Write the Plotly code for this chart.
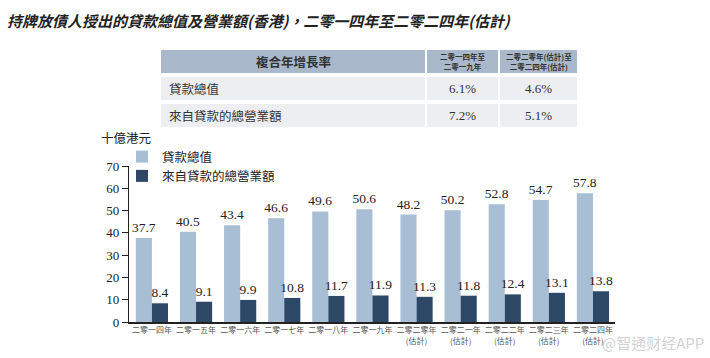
import plotly.graph_objects as go

categories = ["二零一四年", "二零一五年", "二零一六年", "二零一七年", "二零一八年", "二零一九年",
              "二零二零年<br>(估計)", "二零二一年<br>(估計)", "二零二二年<br>(估計)",
              "二零二三年<br>(估計)", "二零二四年<br>(估計)"]
loan_total = [37.7, 40.5, 43.4, 46.6, 49.6, 50.6, 48.2, 50.2, 52.8, 54.7, 57.8]
loan_revenue = [8.4, 9.1, 9.9, 10.8, 11.7, 11.9, 11.3, 11.8, 12.4, 13.1, 13.8]
series_names = ["貸款總值", "來自貸款的總營業額"]

cagr_header = "複合年增長率"
cagr_periods = ["二零一四年至<br>二零一九年", "二零二零年(估計)至<br>二零二四年(估計)"]
cagr_rows = ["貸款總值", "來自貸款的總營業額"]
cagr_values = [["6.1%", "4.6%"], ["7.2%", "5.1%"]]

title = "持牌放債人授出的貸款總值及營業額(香港)，二零一四年至二零二四年(估計)"
y_unit = "十億港元"
y_ticks = [0, 10, 20, 30, 40, 50, 60, 70]

W, H = 710, 358
L, R, T, B = 129, 615, 166, 322

def px2x(px):
    return (px - L) / (R - L)

def py2y(py):
    return (B - py) / (B - T)

CJK = "Noto Sans CJK TC"
SERIF = "Liberation Serif"
LIGHT = "#a8bed5"
DARK = "#2d4866"

fig = go.Figure()
fig.add_trace(go.Bar(x=list(range(len(categories))), y=loan_total, name=series_names[0],
                     marker=dict(color=LIGHT, line=dict(width=0)),
                     texttemplate="%{y:.1f}", textposition="outside", cliponaxis=False,
                     constraintext="none",
                     textfont=dict(family=SERIF, size=13.5, color="#222")))
fig.add_trace(go.Bar(x=list(range(len(categories))), y=loan_revenue, name=series_names[1],
                     marker=dict(color=DARK, line=dict(width=0)),
                     texttemplate="%{y:.1f}", textposition="outside", cliponaxis=False,
                     constraintext="none",
                     textfont=dict(family=SERIF, size=13.5, color="#222")))

shapes = []
annotations = []

def ann(text, px, py, size, family=CJK, color="#333", xanchor="center"):
    annotations.append(dict(text=text, x=px2x(px), y=py2y(py), xanchor=xanchor, yanchor="middle",
                            xref="paper", yref="paper", showarrow=False,
                            font=dict(family=family, size=size, color=color)))

# table
cols = [(161, 425), (427, 498), (500, 577)]
rows = [(77, 100), (104, 127)]
for (x0, x1) in cols:
    shapes.append(dict(type="rect", xref="paper", yref="paper", x0=px2x(x0), x1=px2x(x1),
                       y0=py2y(73), y1=py2y(50), fillcolor="#a9b9cb", line=dict(width=0), layer="below"))
    for (y0, y1) in rows:
        shapes.append(dict(type="rect", xref="paper", yref="paper", x0=px2x(x0), x1=px2x(x1),
                           y0=py2y(y1), y1=py2y(y0), fillcolor="#eceef1", line=dict(width=0), layer="below"))

ann("<b>" + cagr_header + "</b>", (161 + 425) / 2, 61.5, 12.5)
for i, p in enumerate(cagr_periods):
    c = cols[i + 1]
    ann("<b>" + p + "</b>", (c[0] + c[1]) / 2, 61.5, 7.5)
for r, (label, vals) in enumerate(zip(cagr_rows, cagr_values)):
    yc = (rows[r][0] + rows[r][1]) / 2
    ann(label, 167, yc, 12.5, xanchor="left")
    for j, v in enumerate(vals):
        c = cols[j + 1]
        ann(v, (c[0] + c[1]) / 2, yc, 13, family=SERIF)

ann("<b><i>" + title + "</i></b>", 5, 20, 15, color="#222", xanchor="left")
ann(y_unit, 99, 137, 12.5, color="#222", xanchor="left")
ann("@智通财经APP", 706, 342, 15, color="rgba(170,170,170,0.55)", xanchor="right")

fig.update_layout(
    width=W, height=H,
    margin=dict(l=L, r=W - R, t=T, b=H - B, pad=0),
    paper_bgcolor="white", plot_bgcolor="white",
    barmode="group", bargap=0.27, bargroupgap=0,
    showlegend=True,
    legend=dict(x=px2x(122), y=py2y(142), xanchor="left", yanchor="top",
                font=dict(family=CJK, size=12.5, color="#222"),
                bgcolor="rgba(0,0,0,0)", tracegroupgap=0, itemwidth=30),
    shapes=shapes, annotations=annotations,
    xaxis=dict(range=[-0.52, 10.5], tickmode="array", tickvals=list(range(len(categories))),
               ticktext=categories, showgrid=False, zeroline=False,
               showline=True, linecolor="#222", linewidth=1.5, ticks="",
               tickfont=dict(family=CJK, size=8, color="#555"), fixedrange=True),
    yaxis=dict(range=[0, 70], tickvals=y_ticks, showgrid=False, zeroline=False,
               showline=True, linecolor="#222", linewidth=1.2, ticks="outside", ticklen=6,
               tickcolor="#222", tickwidth=1.2,
               tickfont=dict(family=SERIF, size=13, color="#222"), fixedrange=True),
)

fig.write_html("out.html", config={"displayModeBar": False},
               post_script="document.body.style.margin='0';document.body.style.overflow='hidden';")
